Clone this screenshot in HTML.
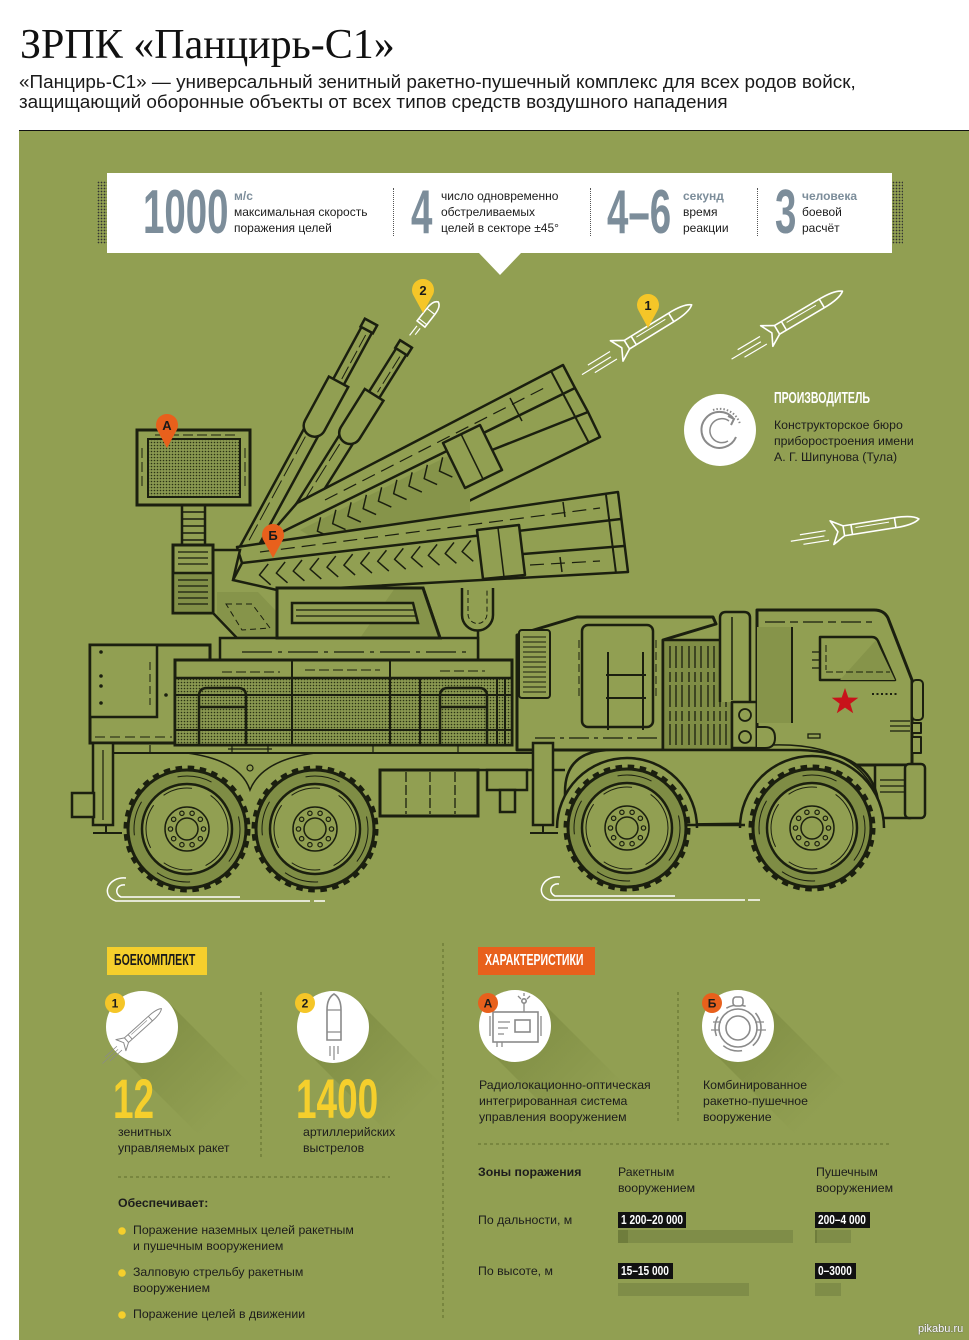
<!DOCTYPE html>
<html><head><meta charset="utf-8">
<style>
*{margin:0;padding:0;box-sizing:border-box}
html,body{width:969px;height:1340px;background:#fff;overflow:hidden}
body{position:relative;font-family:"Liberation Sans","Noto Sans CJK SC",sans-serif;color:#1c1c1c}
.a{position:absolute;white-space:nowrap}
.s12{font-size:12px;line-height:16px}
.s13{font-size:12.3px;line-height:16px}
.cond{display:inline-block;transform-origin:0 0;font-weight:bold}
.num{position:absolute;font-weight:bold;font-size:62px;line-height:62px;color:#7c8d9a;transform:scaleX(0.62);transform-origin:0 0;white-space:nowrap}
.ynum{position:absolute;font-weight:bold;font-size:56px;line-height:56px;color:#f5cf2c;transform:scaleX(0.66);transform-origin:0 0;white-space:nowrap}
.gl{color:#7c8d9a;font-weight:bold}
.sep{position:absolute;width:0;border-left:1.5px dotted #555}
.tag{position:absolute;height:16px;background:#111;color:#fff;font-weight:bold;font-size:13px;line-height:16px;padding-left:3px;overflow:hidden;white-space:nowrap}
.tag span{display:inline-block;transform:scaleX(0.78);transform-origin:0 0}
.bar{position:absolute;height:13px;background:#7f8d48}
</style></head><body>

<div class="a" style="left:20px;top:24px;font-family:'Liberation Serif',serif;font-size:42px;line-height:42px;color:#111">ЗРПК «Панцирь-С1»</div>
<div class="a" style="left:19px;top:73px;font-size:18.9px;line-height:20px;color:#1a1a1a">«Панцирь-С1» — универсальный зенитный ракетно-пушечный комплекс для всех родов войск,<br>защищающий оборонные объекты от всех типов средств воздушного нападения</div>

<div class="a" style="left:19px;top:130px;width:950px;height:1210px;background:#919f52;border-top:1.5px solid #111"></div>

<!-- stats box -->
<div class="a" style="left:97px;top:181px;width:10px;height:63px;background-image:radial-gradient(#333 0.7px,transparent 0.9px);background-size:3px 3px"></div>
<div class="a" style="left:892px;top:181px;width:11px;height:63px;background-image:radial-gradient(#333 0.7px,transparent 0.9px);background-size:3px 3px"></div>
<div class="a" style="left:107px;top:173px;width:785px;height:80px;background:#fff"></div>

<div class="num" style="left:143px;top:182px">1000</div>
<div class="a s12" style="left:234px;top:188px"><span class="gl">м/с</span><br>максимальная скорость<br>поражения целей</div>
<div class="sep" style="left:393px;top:188px;height:48px"></div>
<div class="num" style="left:411px;top:182px">4</div>
<div class="a s12" style="left:441px;top:188px">число одновременно<br>обстреливаемых<br>целей в секторе ±45°</div>
<div class="sep" style="left:590px;top:188px;height:48px"></div>
<div class="num" style="left:607px;top:182px">4–6</div>
<div class="a s12" style="left:683px;top:188px"><span class="gl">секунд</span><br>время<br>реакции</div>
<div class="sep" style="left:757px;top:188px;height:48px"></div>
<div class="num" style="left:775px;top:182px">3</div>
<div class="a s12" style="left:802px;top:188px"><span class="gl">человека</span><br>боевой<br>расчёт</div>

<svg class="a" style="left:0;top:0" width="969" height="1340" viewBox="0 0 969 1340">
<defs>
<pattern id="dots" width="3" height="3" patternUnits="userSpaceOnUse"><rect width="3" height="3" fill="#899850"/><circle cx="1.5" cy="1.5" r="0.8" fill="#2b3214"/></pattern>
<linearGradient id="sh" x1="0" y1="0" x2="1" y2="1"><stop offset="0" stop-color="#4f5d1c" stop-opacity="0.32"/><stop offset="0.8" stop-color="#4f5d1c" stop-opacity="0"/></linearGradient>
<g id="wheel">
<circle r="61" fill="none" stroke="#1b1f0f" stroke-width="5" stroke-dasharray="6.5 5.5"/>
<circle r="59" fill="#7f8d45" stroke="#1b1f0f" stroke-width="3"/>
<circle r="45" fill="#919f52" stroke="#1b1f0f" stroke-width="2.5"/>
<circle r="41" fill="none" stroke="#1b1f0f" stroke-width="1" stroke-dasharray="45 14 30 20"/>
<circle r="53" fill="none" stroke="#1b1f0f" stroke-width="1" stroke-dasharray="35 45"/>
<circle r="22" fill="none" stroke="#1b1f0f" stroke-width="1.5"/>
<circle r="11" fill="none" stroke="#1b1f0f" stroke-width="1.5"/>
<g fill="none" stroke="#1b1f0f" stroke-width="1.2">
<circle cx="16.5" cy="0" r="2.2"/><circle cx="13.35" cy="9.7" r="2.2"/><circle cx="5.1" cy="15.69" r="2.2"/><circle cx="-5.1" cy="15.69" r="2.2"/><circle cx="-13.35" cy="9.7" r="2.2"/><circle cx="-16.5" cy="0" r="2.2"/><circle cx="-13.35" cy="-9.7" r="2.2"/><circle cx="-5.1" cy="-15.69" r="2.2"/><circle cx="5.1" cy="-15.69" r="2.2"/><circle cx="13.35" cy="-9.7" r="2.2"/>
</g>
</g>
<path id="pin" d="M0,0 L-9.5,-17.5 A11,11 0 1 1 9.5,-17.5 Z"/>
<g id="missile" stroke-width="1.6" stroke-linejoin="round">
<path d="M14,-5 H66 Q84,-5 90,0 Q84,5 66,5 H14 Z"/>
<path d="M66,-5 V5 M22,-5 V5" fill="none"/>
<path d="M26,-1.5 H60" stroke-width="1" fill="none"/>
<path d="M14,-5 L2,-12 L8,0 L2,12 L14,5" fill="none"/>
<path d="M-30,-3 H-4 M-40,2 H-6 M-28,7 H-2" stroke-width="1.2" fill="none"/>
</g>
</defs>

<polygon points="478,252 522,252 500,275" fill="#fff"/>

<!-- GUN RODS -->
<g fill="#919f52" stroke="#1b1f0f" stroke-width="2.5">
<g transform="translate(371,322) rotate(118.5)">
<rect x="118" y="-8" width="142" height="16"/>
<rect x="0" y="-6" width="72" height="12"/>
<path d="M68,-11 H118 A11,11 0 0 1 118,11 H68 Z"/>
<rect x="0" y="-7" width="9" height="14"/>
<line x1="14" y1="-1.5" x2="64" y2="-1.5" stroke-width="1" stroke-dasharray="14 4"/>
<line x1="132" y1="3" x2="250" y2="3" stroke-width="1" stroke-dasharray="20 5"/>
</g>
<g transform="translate(406,344) rotate(122.1)">
<rect x="105" y="-8" width="133" height="16"/>
<rect x="0" y="-6" width="64" height="12"/>
<path d="M60,-11 H105 A11,11 0 0 1 105,11 H60 Z"/>
<rect x="0" y="-7" width="9" height="14"/>
<line x1="14" y1="-1.5" x2="56" y2="-1.5" stroke-width="1" stroke-dasharray="14 4"/>
<line x1="120" y1="3" x2="228" y2="3" stroke-width="1" stroke-dasharray="20 5"/>
</g>
</g>

<!-- UPPER PACK -->
<g fill="#919f52" stroke="#1b1f0f" stroke-width="2.5" stroke-linejoin="round">
<polygon points="258,548 297,503 563,365 575,388 588,412 600,437 430,520 395,548"/>
<polygon points="300,530 470,445 470,520 330,548" fill="#86944a" stroke="none"/>
<line x1="280" y1="533" x2="575" y2="388"/>
<line x1="492" y1="450" x2="588" y2="412"/>
<line x1="551" y1="371" x2="589" y2="443" stroke-width="2"/>
<line x1="510" y1="398" x2="522" y2="421" stroke-width="1.5"/>
<line x1="325" y1="500" x2="548" y2="386" stroke-width="1.2" stroke-dasharray="14 7"/>
<g transform="translate(300,523) rotate(-26.2)" fill="none" stroke-width="1.5">
<path d="M21,4 L12,15 L21,26 M38,4 L29,15 L38,26 M55,4 L46,15 L55,26 M72,4 L63,15 L72,26 M89,4 L80,15 L89,26 M106,4 L97,15 L106,26 M123,4 L114,15 L123,26 M140,4 L131,15 L140,26 M157,4 L148,15 L157,26"/>
</g>
<polygon points="443,443 480,425 502,470 465,488"/>
<line x1="461" y1="434" x2="483" y2="479" stroke-width="1.5"/>
</g>

<!-- LOWER PACK -->
<g fill="#919f52" stroke="#1b1f0f" stroke-width="2.5" stroke-linejoin="round">
<polygon points="237,547 618,492 628,572 245,593 233,580 242,563"/>
<line x1="242" y1="563" x2="621" y2="519"/>
<line x1="523" y1="554" x2="624" y2="546"/>
<line x1="606" y1="495" x2="616" y2="573" stroke-width="2"/>
<line x1="563" y1="502" x2="565" y2="517" stroke-width="1.5"/>
<line x1="560" y1="557" x2="562" y2="572" stroke-width="1.5"/>
<line x1="260" y1="552" x2="600" y2="508" stroke-width="1.2" stroke-dasharray="14 7"/>
<line x1="530" y1="565" x2="600" y2="561" stroke-width="1.2" stroke-dasharray="14 7"/>
<g transform="translate(250,563) rotate(-6.6)" fill="none" stroke-width="1.5">
<path d="M18,3 L8,13 L18,24 M35,3 L25,13 L35,24 M52,3 L42,13 L52,24 M69,3 L59,13 L69,24 M86,3 L76,13 L86,24 M103,3 L93,13 L103,24 M120,3 L110,13 L120,24 M137,3 L127,13 L137,24 M154,3 L144,13 L154,24 M171,3 L161,13 L171,24 M188,3 L178,13 L188,24 M205,3 L195,13 L205,24 M222,3 L212,13 L222,24"/>
</g>
<polygon points="477,530 519,525 525,575 483,579"/>
<line x1="498" y1="528" x2="504" y2="577" stroke-width="1.5"/>
</g>

<!-- RADAR -->
<g fill="#919f52" stroke="#1b1f0f" stroke-width="2.5">
<rect x="182" y="505" width="23" height="42"/>
<path d="M182,512 H205 M182,519 H205 M182,526 H205 M182,533 H205 M182,540 H205" stroke-width="1.5"/>
<rect x="137" y="430" width="113" height="75" stroke-width="3"/>
<rect x="148" y="439" width="92" height="58" fill="url(#dots)" stroke-width="2"/>
<path d="M155,435 H235 M142,448 V490 M245,448 V490" stroke-width="1" stroke-dasharray="10 4" fill="none"/>
<polygon points="213,550 240,550 233,580 277,590 277,638 237,638 213,613"/>
<polygon points="217,592 258,592 277,612 277,636 238,636 217,615" fill="#86944a" stroke="none"/>
<polygon points="226,604 252,604 270,628 242,630" fill="none" stroke-width="1" stroke-dasharray="6 4"/>
<rect x="173" y="545" width="40" height="68" stroke-width="3"/>
<rect x="173" y="573" width="40" height="40" fill="#818f47" stroke-width="2.5"/>
<path d="M178,552 H208 M178,558 H208 M178,564 H208 M178,580 H208 M178,586 H208 M178,592 H208 M178,598 H208 M178,604 H208" stroke-width="1.3"/>
</g>

<!-- TURRET -->
<g fill="#919f52" stroke="#1b1f0f" stroke-width="2.5">
<path d="M462,588 V615 A15.5,15.5 0 0 0 493,615 V588" stroke-width="2.5"/>
<path d="M468,590 V614 A9.5,9.5 0 0 0 487,614 V590" fill="none" stroke-width="1" stroke-dasharray="5 3"/>
<line x1="478" y1="630" x2="478" y2="660"/>
<rect x="220" y="638" width="258" height="22"/>
<line x1="242" y1="652" x2="470" y2="652" stroke-width="1.2" stroke-dasharray="30 6 4 6"/>
<polygon points="277,588 423,588 440,638 277,638" stroke-width="3"/>
<polygon points="395,588 423,588 440,638 360,638" fill="#86944a" stroke="none"/>
<polygon points="277,588 423,588 440,638 277,638" fill="none" stroke-width="3"/>
<polygon points="292,603 413,603 418,623 292,623"/>
<path d="M296,610 H414 M296,616 H416" stroke-width="1.2"/>
</g>

<!-- FRONT MODULE -->
<g fill="#919f52" stroke="#1b1f0f" stroke-width="2.5" stroke-linejoin="round">
<polygon points="517,635 577,617 713,617 716,624 663,640 663,750 517,750" stroke-width="3"/>
<rect x="519" y="630" width="31" height="68" rx="3" stroke-width="2"/>
<path d="M523,637 H546 M523,642 H546 M523,647 H546 M523,652 H546 M523,657 H546 M523,662 H546 M523,667 H546 M523,672 H546 M523,677 H546 M523,682 H546 M523,687 H546 M523,692 H546" stroke-width="1.1"/>
<rect x="582" y="625" width="71" height="102" rx="6"/>
<path d="M608,652 V730 M643,652 V730 M606,675 H646 M606,698 H646" stroke-width="2"/>
<path d="M579,640 V700 M656,640 V700" stroke-width="1" stroke-dasharray="8 4"/>
<line x1="535" y1="738" x2="660" y2="738" stroke-width="1.2" stroke-dasharray="20 5 4 5"/>
<rect x="663" y="640" width="69" height="110" fill="#7f8d45"/>
<path d="M670,646 V745 M676,646 V745 M682,646 V745 M689,646 V745 M695,646 V745 M701,646 V745 M708,646 V745 M714,646 V745 M720,646 V745 M726,646 V745" stroke-width="1.3" stroke-dasharray="22 4 10 3"/>
<path d="M720,702 V618 Q720,612 726,612 H744 Q750,612 750,618 V702"/>
<line x1="732" y1="617" x2="732" y2="700" stroke-width="1.5"/>
<rect x="732" y="702" width="25" height="46"/>
<circle cx="745" cy="715" r="6" stroke-width="1.8"/>
<circle cx="745" cy="737" r="6" stroke-width="1.8"/>
<path d="M757,765 V610 H874 Q884,610 888,618 L912,680 V765 Z" stroke-width="3"/>
<rect x="757" y="627" width="35" height="96" fill="#86944a" stroke="none"/>
<line x1="792" y1="627" x2="792" y2="723" stroke-width="2"/>
<line x1="765" y1="622" x2="872" y2="622" stroke-width="1.2" stroke-dasharray="20 5 8 5"/>
<path d="M820,637 H872 Q876,637 878,641 L895,680 H820 Z"/>
<polygon points="840,680 876,640 895,680" fill="#86944a" stroke="none"/>
<path d="M826,672 H890 M826,645 V670" stroke-width="1" stroke-dasharray="7 3" fill="none"/>
<path d="M812,652 H819 M812,660 H819 M812,668 H819" stroke-width="1.3"/>
<line x1="872" y1="694" x2="898" y2="694" stroke-width="2" stroke-dasharray="2 2.5"/>
<path d="M890,721 H910 M890,726 H910 M890,731 H910" stroke-width="1.2"/>
<rect x="912" y="680" width="11" height="40" rx="4" stroke-width="2"/>
<rect x="912" y="723" width="9" height="10" stroke-width="2"/>
<rect x="912" y="737" width="9" height="16" stroke-width="2"/>
</g>
<polygon fill="#c8121a" points="845,688 848.3,697.5 858.3,697.7 850.3,703.7 853.2,713.3 845,707.6 836.8,713.3 839.7,703.7 831.7,697.7 841.7,697.5"/>

<!-- REAR BOX & CARGO -->
<g fill="#919f52" stroke="#1b1f0f" stroke-width="2.5">
<path d="M90,645 H210 V660 H175 V743 H90 Z" stroke-width="3"/>
<rect x="90" y="645" width="67" height="72"/>
<line x1="150" y1="662" x2="150" y2="705" stroke-width="1" stroke-dasharray="8 4"/>
<line x1="95" y1="737" x2="172" y2="737" stroke-width="1" stroke-dasharray="10 5"/>
<g fill="#1b1f0f" stroke="none"><circle cx="101" cy="652" r="1.8"/><circle cx="101" cy="676" r="1.8"/><circle cx="101" cy="686" r="1.8"/><circle cx="101" cy="703" r="1.8"/><circle cx="166" cy="695" r="1.8"/><circle cx="195" cy="668" r="1.8"/><circle cx="429" cy="668" r="1.8"/><circle cx="493" cy="668" r="1.8"/></g>
<rect x="175" y="660" width="337" height="85" stroke-width="3"/>
<rect x="175" y="678" width="337" height="67" fill="url(#dots)"/>
<path d="M175,695 H512 M175,730 H512" stroke-width="2"/>
<path d="M292,660 V745 M390,660 V745 M420,678 V745 M497,678 V745 M505,678 V745" stroke-width="2"/>
<path d="M199,745 V696 Q199,688 207,688 H238 Q246,688 246,696 V745 M199,707 H246" fill="none"/>
<path d="M440,745 V696 Q440,688 448,688 H479 Q487,688 487,696 V745 M440,707 H487" fill="none"/>
<path d="M222,672 H280 M305,670 H380 M440,671 H485" stroke-width="1" stroke-dasharray="10 4" fill="none"/>
</g>

<!-- CHASSIS -->
<g fill="#919f52" stroke="#1b1f0f" stroke-width="2.5">
<line x1="113" y1="753" x2="533" y2="753" stroke-width="2"/>
<line x1="380" y1="770" x2="565" y2="770"/>
<path d="M187,753 Q240,760 250,790 Q262,760 315,753" fill="none" stroke-width="1.5"/>
<circle cx="250" cy="768" r="3" fill="none" stroke-width="1.2"/>
<path d="M150,745 V752 M232,745 V752 M268,745 V752 M373,745 V752 M458,745 V752 M228,749 H272" fill="none" stroke-width="1.2"/>
<rect x="93" y="743" width="20" height="82"/>
<line x1="103" y1="750" x2="103" y2="820" stroke-width="1.2"/>
<rect x="72" y="793" width="22" height="24"/>
<path d="M93,833 H122 M106,825 V833" stroke-width="2"/>
<rect x="380" y="770" width="98" height="46" stroke-width="3"/>
<path d="M406,772 V814 M430,772 V814 M455,772 V814" stroke-width="1.3" stroke-dasharray="10 3"/>
<rect x="487" y="770" width="40" height="20"/>
<rect x="500" y="790" width="15" height="22"/>
<rect x="533" y="743" width="20" height="82"/>
<path d="M530,833 H558 M543,825 V833" stroke-width="2"/>
</g>

<!-- FRONT LOWER BODY -->
<g fill="#919f52" stroke="#1b1f0f" stroke-width="2.5">
<rect x="875" y="765" width="35" height="53"/>
<path d="M880,780 H905 M880,786 H905 M880,792 H905" stroke-width="1.2"/>
<rect x="905" y="764" width="20" height="54" rx="4"/>
<path d="M565,826 V792 Q565,750 612,750 H800 Q870,752 878,800 V822 Z"/>
<path d="M770,745 Q850,742 874,790" fill="none" stroke-width="1.5"/>
<path d="M757,727 H765 Q775,727 775,738 Q775,748 765,748 H757" stroke-width="2"/>
<rect x="808" y="734" width="12" height="4" stroke-width="1.3"/>
<path d="M557,828 A70,70 0 0 1 697,828 Z" stroke="none"/>
<path d="M557,828 A70,70 0 0 1 697,828" fill="none"/>
<path d="M740,828 A72,72 0 0 1 884,828 Z" stroke="none"/>
<path d="M740,828 A72,72 0 0 1 884,828" fill="none"/>
<line x1="687" y1="825" x2="745" y2="825"/>
</g>

<use href="#wheel" x="187" y="829"/>
<use href="#wheel" x="315" y="829"/>
<use href="#wheel" x="627" y="828"/>
<use href="#wheel" x="812" y="828"/>

<!-- speed curls -->
<g fill="none" stroke="#fff" stroke-width="1.5">
<path d="M126,878 C108,876 100,896 116,901 H310 M125,885 C116,884 114,894 121,897 H240 M314,901 H325"/>
<path d="M560,877 C542,875 534,895 550,900 H745 M559,884 C550,883 548,893 555,896 H675 M748,900 H760"/>
</g>

<!-- missiles -->
<use href="#missile" stroke="#fff" fill="#919f52" transform="translate(615,352) rotate(-31.6)"/>
<use href="#missile" stroke="#fff" fill="#919f52" transform="translate(765,337) rotate(-30.6)"/>
<use href="#missile" stroke="#fff" fill="#919f52" transform="translate(830,533) rotate(-9)"/>
<g transform="translate(421,324) rotate(-52)" fill="#919f52" stroke="#fff" stroke-width="1.6">
<path d="M0,-5 H16 Q26,-5 28,0 Q26,5 16,5 H0 Z"/>
<path d="M16,-5 V5 M3,-5 V5 M-4,-2 H-16 M-4,2 H-12" fill="none" stroke-width="1.2"/>
</g>

<!-- pins -->
<use href="#pin" fill="#f5c628" transform="translate(648,328)"/>
<use href="#pin" fill="#f5c628" transform="translate(423,313)"/>
<use href="#pin" fill="#e8601c" transform="translate(167,448)"/>
<use href="#pin" fill="#e8601c" transform="translate(273,558)"/>
<g font-family="Liberation Sans, sans-serif" font-weight="bold" font-size="13" fill="#1a1a1a" text-anchor="middle">
<text x="648" y="310">1</text>
<text x="423" y="295">2</text>
<text x="167" y="430">А</text>
<text x="273" y="540">Б</text>
</g>

<!-- manufacturer -->
<circle cx="720" cy="430" r="36" fill="#fff"/>
<g fill="none" stroke="#8a8a8a" stroke-width="2">
<path d="M736,437 A18,18 0 1 1 733,418"/>
<path d="M728,441 A12,12 0 1 1 729,421" stroke-width="1.5"/>
<path d="M728,416 L734,419 L731,425"/>
<path d="M713,410 A21,21 0 0 1 740,424" stroke-dasharray="1.5 2"/>
</g>

<!-- bottom shadows -->
<polygon points="167.5,1001.5 116.5,1052.5 201.5,1137.5 252.5,1086.5" fill="url(#sh)"/>
<polygon points="358.5,1001.5 307.5,1052.5 392.5,1137.5 443.5,1086.5" fill="url(#sh)"/>
<polygon points="540.5,1000.5 489.5,1051.5 574.5,1136.5 625.5,1085.5" fill="url(#sh)"/>
<polygon points="763.5,1000.5 712.5,1051.5 797.5,1136.5 848.5,1085.5" fill="url(#sh)"/>
<circle cx="142" cy="1027" r="36" fill="#fff"/>
<circle cx="333" cy="1027" r="36" fill="#fff"/>
<circle cx="515" cy="1026" r="36" fill="#fff"/>
<circle cx="738" cy="1026" r="36" fill="#fff"/>

<use href="#missile" stroke="#8a8a8a" fill="#fff" transform="translate(120,1046) rotate(-42) scale(0.62)"/>
<g fill="#fff" stroke="#8a8a8a" stroke-width="1.6">
<path d="M327,1040 V1010 Q327,998 334,994 Q341,998 341,1010 V1040 Z"/>
<path d="M327,1010 H341 M327,1032 H341 M330,1046 V1056 M334,1046 V1060 M338,1046 V1054" fill="none" stroke-width="1.2"/>
<rect x="493" y="1012" width="45" height="30"/>
<rect x="515" y="1020" width="15" height="12"/>
<path d="M498,1022 H510 M498,1028 H508 M498,1034 H504 M524,1012 V1003 M518,996 L521,999 M530,996 L527,999 M524,993 V996 M497,1042 V1047 M502,1042 V1047 M490,1016 V1036 M541,1016 V1036" fill="none" stroke-width="1.3"/>
<circle cx="524" cy="1001" r="2.2"/>
<circle cx="738" cy="1028" r="19"/>
<circle cx="738" cy="1028" r="12"/>
<circle cx="738" cy="1028" r="23" fill="none" stroke-dasharray="20 12"/>
<rect x="733" y="997" width="10" height="9" rx="3"/>
<path d="M713,1022 H721 M711,1030 H720 M755,1022 H764 M756,1030 H766" fill="none" stroke-width="1.3"/>
</g>
<circle cx="115" cy="1003" r="10" fill="#f5c628"/>
<circle cx="305" cy="1003" r="10" fill="#f5c628"/>
<circle cx="488" cy="1003" r="10" fill="#e8601c"/>
<circle cx="712" cy="1003" r="10" fill="#e8601c"/>
<g font-family="Liberation Sans, sans-serif" font-weight="bold" font-size="12" fill="#1a1a1a" text-anchor="middle">
<text x="115" y="1007.5">1</text>
<text x="305" y="1007.5">2</text>
<text x="488" y="1007.5">А</text>
<text x="712" y="1007.5">Б</text>
</g>

<!-- separators -->
<g stroke="#5f6d2c" stroke-width="1" stroke-dasharray="3 3">
<line x1="261" y1="992" x2="261" y2="1158"/>
<line x1="443" y1="943" x2="443" y2="1318"/>
<line x1="678" y1="992" x2="678" y2="1123"/>
<line x1="118" y1="1177" x2="390" y2="1177"/>
<line x1="478" y1="1144" x2="890" y2="1144"/>
</g>
<g fill="#f5cf2c"><circle cx="122" cy="1231" r="3.8"/><circle cx="122" cy="1273" r="3.8"/><circle cx="122" cy="1315" r="3.8"/></g>
</svg>

<!-- manufacturer text -->
<div class="a" style="left:774px;top:391px;font-size:16px;line-height:16px;color:#fff"><span class="cond" style="transform:scaleX(0.66)">ПРОИЗВОДИТЕЛЬ</span></div>
<div class="a" style="left:774px;top:417px;font-size:12.3px;line-height:16px;color:#1c1c1c">Конструкторское бюро<br>приборостроения имени<br>А. Г. Шипунова (Тула)</div>

<!-- bottom left -->
<div class="a" style="left:107px;top:947px;width:100px;height:28px;background:#f5cf2c"></div>
<div class="a" style="left:114px;top:953px;font-size:15.5px;line-height:16px;color:#1a1a1a"><span class="cond" style="transform:scaleX(0.68)">БОЕКОМПЛЕКТ</span></div>
<div class="ynum" style="left:113px;top:1071px">12</div>
<div class="a s13" style="left:118px;top:1124px">зенитных<br>управляемых ракет</div>
<div class="ynum" style="left:296px;top:1071px">1400</div>
<div class="a s13" style="left:303px;top:1124px">артиллерийских<br>выстрелов</div>
<div class="a s13" style="left:118px;top:1195px;font-weight:bold">Обеспечивает:</div>
<div class="a s13" style="left:133px;top:1222px">Поражение наземных целей ракетным<br>и пушечным вооружением</div>
<div class="a s13" style="left:133px;top:1264px">Залповую стрельбу ракетным<br>вооружением</div>
<div class="a s13" style="left:133px;top:1306px">Поражение целей в движении</div>

<!-- bottom right -->
<div class="a" style="left:478px;top:947px;width:117px;height:28px;background:#e8601c"></div>
<div class="a" style="left:485px;top:953px;font-size:15.5px;line-height:16px;color:#fff"><span class="cond" style="transform:scaleX(0.68)">ХАРАКТЕРИСТИКИ</span></div>
<div class="a s13" style="left:479px;top:1077px">Радиолокационно-оптическая<br>интегрированная система<br>управления вооружением</div>
<div class="a s13" style="left:703px;top:1077px">Комбинированное<br>ракетно-пушечное<br>вооружение</div>
<div class="a s13" style="left:478px;top:1164px;font-weight:bold">Зоны поражения</div>
<div class="a s13" style="left:618px;top:1164px">Ракетным<br>вооружением</div>
<div class="a s13" style="left:816px;top:1164px">Пушечным<br>вооружением</div>
<div class="a s13" style="left:478px;top:1212px">По дальности, м</div>
<div class="a s13" style="left:478px;top:1263px">По высоте, м</div>

<div class="tag" style="left:618px;top:1212px;width:68px"><span>1 200–20 000</span></div>
<div class="bar" style="left:618px;top:1230px;width:175px"></div>
<div class="bar" style="left:618px;top:1230px;width:10px;background:#6f7d3c"></div>
<div class="tag" style="left:815px;top:1212px;width:55px"><span>200–4 000</span></div>
<div class="bar" style="left:815px;top:1230px;width:36px"></div>
<div class="bar" style="left:815px;top:1230px;width:2px;background:#6f7d3c"></div>
<div class="tag" style="left:618px;top:1263px;width:55px"><span>15–15 000</span></div>
<div class="bar" style="left:618px;top:1283px;width:131px"></div>
<div class="tag" style="left:815px;top:1263px;width:41px"><span>0–3000</span></div>
<div class="bar" style="left:815px;top:1283px;width:26px"></div>

<div class="a" style="left:918px;top:1323px;font-size:11px;line-height:12px;color:#fff;text-shadow:0 0 1px #555,0 0 1px #555">pikabu.ru</div>

</body></html>
